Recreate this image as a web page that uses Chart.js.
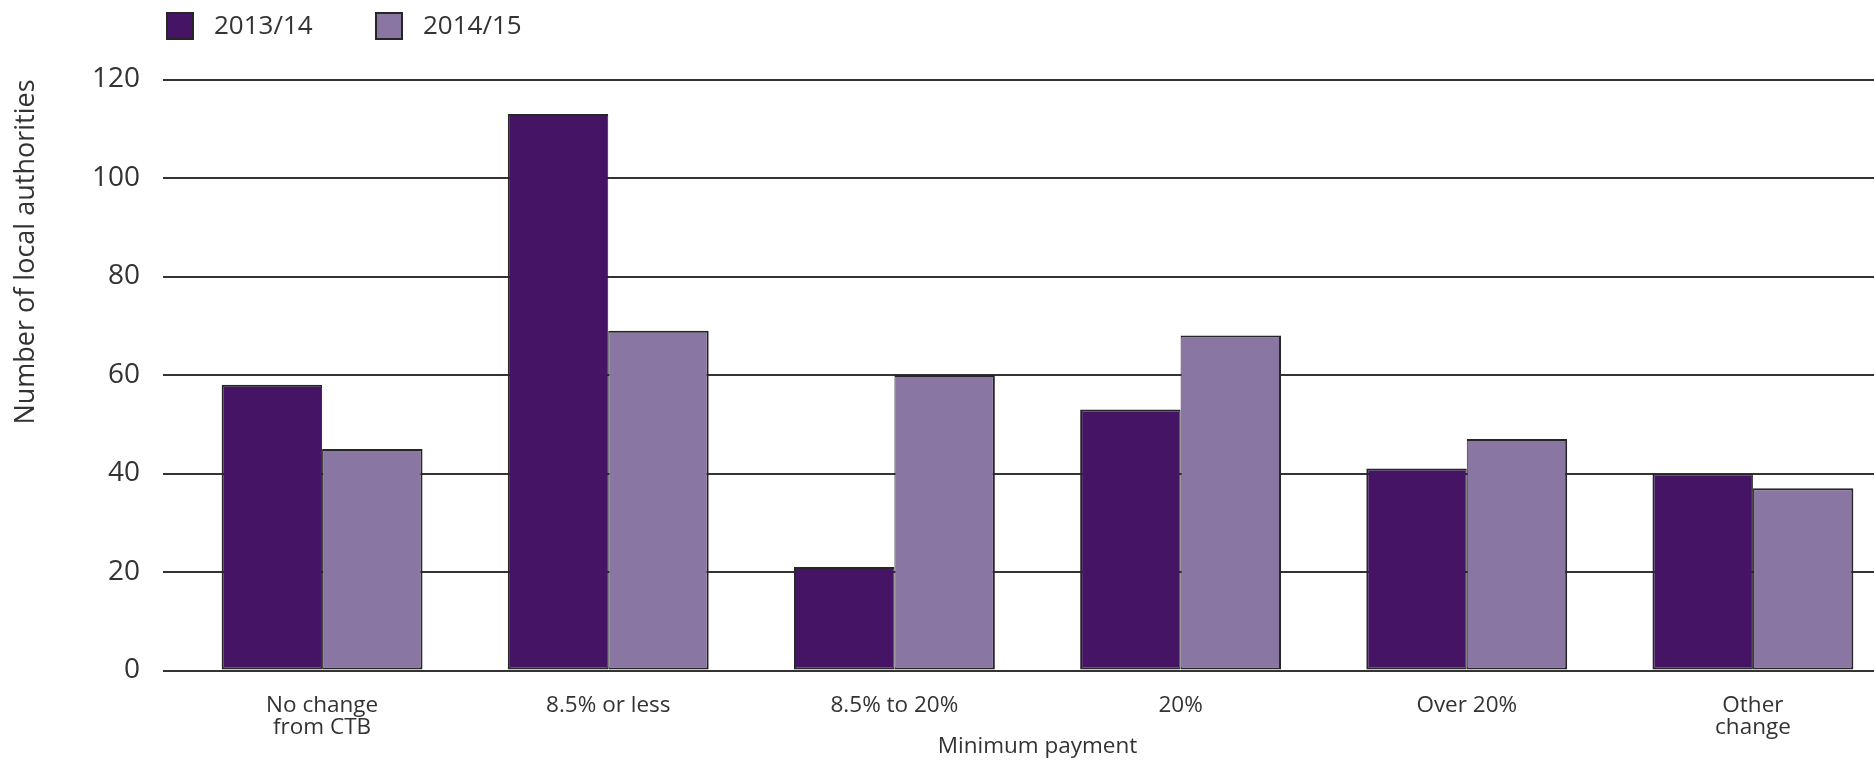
<!DOCTYPE html>
<html>
<head>
<meta charset="utf-8">
<title>Minimum payment</title>
<script src="https://cdn.jsdelivr.net/npm/chart.js@4.4.1/dist/chart.umd.min.js"></script>
<style>
html,body{margin:0;padding:0;background:#fff;overflow:hidden;}
#wrap{width:1874px;height:760px;overflow:hidden;}
</style>
</head>
<body>
<div id="wrap"><canvas id="chart" width="1896" height="760"></canvas></div>
<script>
/*========== Data ==========*/

const categories=[["No change","from CTB"],"8.5% or less","8.5% to 20%","20%","Over 20%",["Other","change"]];
const seriesNames=["2013/14","2014/15"];
const values1314=[58,113,21,53,41,40];
const values1415=[45,69,60,68,47,37];
const yTicks=[0,20,40,60,80,100,120];

/*========== Style ==========*/

const FONT="'Open Sans', 'DejaVu Sans', sans-serif";
const TEXT="#333333";
const LINE="#333333";
const EDGE="#262626";
const DARK="#461464";
const LIGHT="#8a76a3";

/*========== Legend ==========*/

const boxLegend={
    id:"boxLegend",
    afterDraw(c){
        const ctx=c.ctx;
        const xs=[166,375];
        ctx.save();
        ctx.font="26px "+FONT;
        ctx.textBaseline="middle";
        ctx.textAlign="left";
        c.data.datasets.forEach((ds,i)=>{
            const x=xs[i];
            ctx.fillStyle=ds.backgroundColor;
            ctx.fillRect(x,12,28,28);
            ctx.strokeStyle=EDGE;
            ctx.lineWidth=2;
            ctx.strokeRect(x+1,13,26,26);
            ctx.fillStyle=TEXT;
            ctx.fillText(ds.label,x+48,27);
        });
        ctx.restore();
    }
};

/*========== Chart ==========*/

new Chart(document.getElementById("chart"),{
    type:"bar",
    data:{
        labels:categories,
        datasets:[
            {label:seriesNames[0],data:values1314,backgroundColor:DARK,borderColor:EDGE,
             borderWidth:{top:2,left:2,right:1,bottom:2},borderSkipped:false},
            {label:seriesNames[1],data:values1415,backgroundColor:LIGHT,borderColor:EDGE,
             borderWidth:{top:2,left:1,right:2,bottom:2},borderSkipped:false}
        ]
    },
    options:{
        responsive:false,
        animation:false,
        layout:{padding:{top:79.5,right:0,bottom:0,left:0}},
        datasets:{bar:{categoryPercentage:0.702,barPercentage:1}},
        plugins:{legend:{display:false},tooltip:{enabled:false}},
        scales:{
            x:{
                grid:{display:false},
                border:{display:false},
                ticks:{color:TEXT,font:{family:FONT,size:22.5,lineHeight:0.97},padding:16,maxRotation:0,autoSkip:false},
                title:{display:true,text:"Minimum payment",color:TEXT,font:{family:FONT,size:22.5,lineHeight:1.2},padding:{top:0,bottom:0}},
                afterFit(s){s.height=89.5;}
            },
            y:{
                min:0,
                max:120,
                grid:{color:LINE,lineWidth:2,tickLength:16,tickColor:LINE},
                border:{display:false},
                ticks:{color:TEXT,font:{family:FONT,size:28},padding:23},
                afterBuildTicks(s){s.ticks=yTicks.map(v=>({value:v}));},
                title:{display:true,text:"Number of local authorities",align:"end",color:TEXT,
                       font:{family:FONT,size:27,lineHeight:1.2},padding:{top:10,bottom:10}},
                afterFit(s){s.width=179;}
            }
        }
    },
    plugins:[boxLegend]
});
</script>
</body>
</html>
